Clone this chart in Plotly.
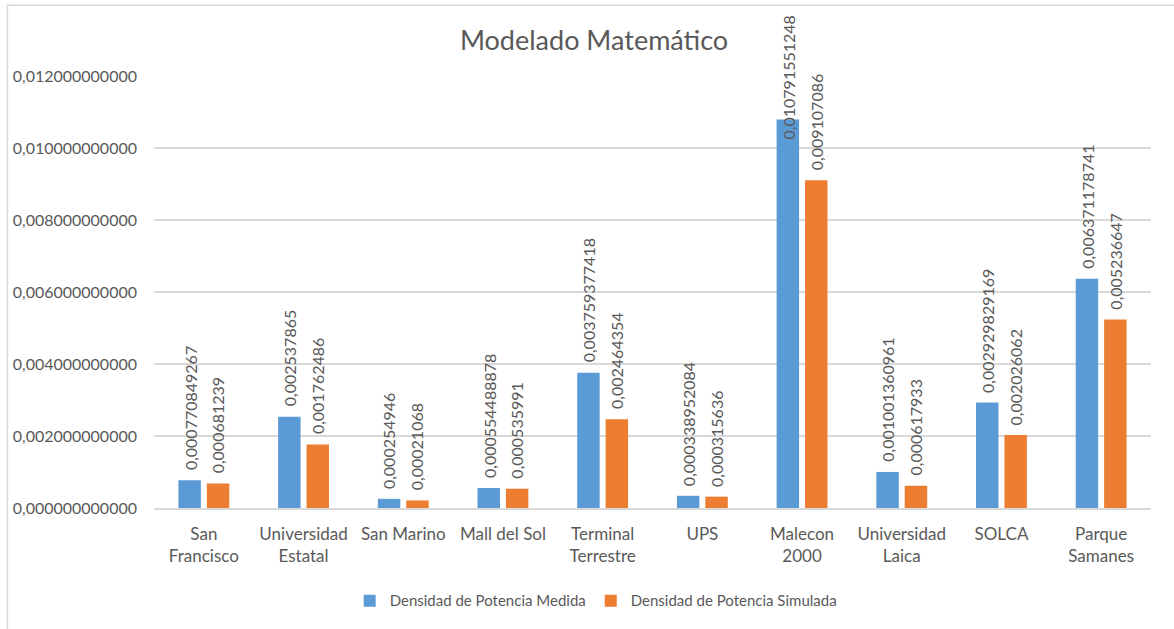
import plotly.graph_objects as go

# Measurement sites and power density values (W/m²)
sitios = [
    "San<br>Francisco", "Universidad<br>Estatal", "San Marino", "Mall del Sol",
    "Terminal<br>Terrestre", "UPS", "Malecon<br>2000", "Universidad<br>Laica",
    "SOLCA", "Parque<br>Samanes",
]
densidad_medida = [
    0.000770849267, 0.002537865, 0.000254946, 0.000554488878, 0.003759377418,
    0.000338952084, 0.010791551248, 0.001001360961, 0.002929829169, 0.006371178741,
]
densidad_simulada = [
    0.000681239, 0.001762486, 0.00021068, 0.000535991, 0.002464354,
    0.000315636, 0.009107086, 0.000617933, 0.002026062, 0.005236647,
]
# Label strings as shown (decimal comma)
etiquetas_medida = [
    "0,000770849267", "0,002537865", "0,000254946", "0,000554488878", "0,003759377418",
    "0,000338952084", "0,010791551248", "0,001001360961", "0,002929829169", "0,006371178741",
]
etiquetas_simulada = [
    "0,000681239", "0,001762486", "0,00021068", "0,000535991", "0,002464354",
    "0,000315636", "0,009107086", "0,000617933", "0,002026062", "0,005236647",
]
y_ticks = [0.0, 0.002, 0.004, 0.006, 0.008, 0.010, 0.012]
y_ticktext = [f"{v:.12f}".replace(".", ",") for v in y_ticks]

FONT = "Lato"
GRIS = "#595959"
AZUL = "#5B9BD5"
NARANJA = "#ED7D31"

fig = go.Figure()
fig.add_trace(go.Bar(x=sitios, y=densidad_medida, name="Densidad de Potencia Medida",
                     marker=dict(color=AZUL, line=dict(width=0))))
fig.add_trace(go.Bar(x=sitios, y=densidad_simulada, name="Densidad de Potencia Simulada",
                     marker=dict(color=NARANJA, line=dict(width=0))))

# Rotated value labels above each bar; labels that would run past the top
# of the chart are pinned to the top edge instead.
Y_MAX = 0.012
LIMITE = 0.0100
anots = []
for serie, etiquetas, dx in ((densidad_medida, etiquetas_medida, -14),
                             (densidad_simulada, etiquetas_simulada, 14)):
    for s, v, t in zip(sitios, serie, etiquetas):
        a = dict(x=s, xref="x", text=t, textangle=-90, showarrow=False,
                 xshift=dx, font=dict(family=FONT, size=16, color=GRIS))
        if v > LIMITE:
            a.update(y=1.145, yref="paper", yanchor="top")
        else:
            a.update(y=v, yref="y", yanchor="bottom", yshift=8)
        anots.append(a)

fig.update_layout(
    width=1174, height=629,
    margin=dict(l=154, r=23, t=76, b=119),
    paper_bgcolor="white", plot_bgcolor="white",
    font=dict(family=FONT, size=15, color=GRIS),
    title=dict(text="Modelado Matemático", x=0.506, xanchor="center",
               y=0.935, yanchor="middle",
               font=dict(family=FONT, size=27, color=GRIS)),
    barmode="group", bargap=0.43, bargroupgap=0.21,
    showlegend=True,
    legend=dict(orientation="h", x=0.443, xanchor="center", y=-0.215, yanchor="middle",
                font=dict(family=FONT, size=15, color=GRIS), itemwidth=30,
                traceorder="normal"),
    annotations=anots,
    shapes=[dict(type="rect", xref="paper", yref="paper",
                 x0=-0.147, x1=1.05, y0=-0.3, y1=1.164,
                 line=dict(color="#d9d9d9", width=1.5), fillcolor="rgba(0,0,0,0)",
                 layer="below")],
)
fig.update_xaxes(showgrid=False, showline=True, linecolor="#d9d9d9", linewidth=1.5,
                 ticks="", tickfont=dict(family=FONT, size=17, color=GRIS),
                 ticklabelstandoff=10, tickangle=0)
fig.update_yaxes(range=[0, Y_MAX], tickvals=y_ticks, ticktext=y_ticktext,
                 showgrid=True, gridcolor="#d9d9d9", gridwidth=1.5, zeroline=False,
                 showline=False, ticks="", ticklabelstandoff=16,
                 tickfont=dict(family=FONT, size=16, color=GRIS))

fig.write_html("out.html")
